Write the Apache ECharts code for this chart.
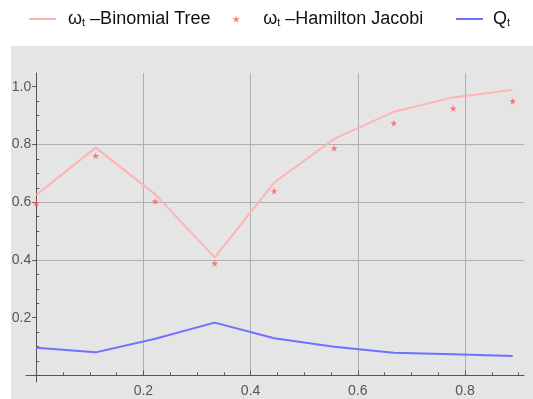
<!DOCTYPE html>
<html><head><meta charset="utf-8">
<script src="https://cdn.jsdelivr.net/npm/echarts@6/dist/echarts.min.js"></script>
<style>
html,body{margin:0;padding:0;background:#fff;width:533px;height:399px;overflow:hidden;}
#bg{position:absolute;left:11px;top:46px;right:0;bottom:0;background:#e5e5e5;}
#main{position:absolute;left:0;top:0;width:533px;height:399px;}
</style></head><body>
<div id="bg"></div><div id="main"></div>
<script>
// ---- data ----
const times = [0, 0.111, 0.222, 0.333, 0.444, 0.556, 0.667, 0.778, 0.889];
const binomialTree = [0.625, 0.789, 0.627, 0.409, 0.668, 0.819, 0.913, 0.963, 0.989];
const hamiltonJacobi = [0.597, 0.761, 0.603, 0.388, 0.639, 0.787, 0.874, 0.925, 0.950];
const qValues = [0.096, 0.080, 0.127, 0.183, 0.129, 0.099, 0.079, 0.073, 0.067];
const xTickLabels = [0.2, 0.4, 0.6, 0.8];
const yTickLabels = [0.2, 0.4, 0.6, 0.8, 1.0];
const xMinorTicks = [0.05, 0.1, 0.15, 0.25, 0.3, 0.35, 0.45, 0.5, 0.55, 0.65, 0.7, 0.75, 0.85, 0.9];
const yMinorTicks = [0.05, 0.1, 0.15, 0.25, 0.3, 0.35, 0.45, 0.5, 0.55, 0.65, 0.7, 0.75, 0.85, 0.9, 0.95];

// ---- layout ----
const W = 533, H = 399;
const X0 = 36.2, XS = 536, Y0 = 375.45, YS = 288.75;
const plotRight = 524, plotTop = 73, stubLeft = 26, stubBottom = 382;
const xMax = (plotRight - X0) / XS;
const yMax = (Y0 - plotTop) / YS;
const xMin = (stubLeft - X0) / XS;
const yMin = (Y0 - stubBottom) / YS;

const AX = '#555555';
const GRIDC = '#b0b0b0';
const FONT = '"Liberation Sans", Arial, Helvetica, sans-serif';
const starPath = 'path://M50,0 L61,35 L98,35 L68,57 L79,91 L50,70 L21,91 L32,57 L2,35 L39,35 Z';

function rich(pad) {
  return {
    w: { fontSize: 18, fontFamily: FONT, color: '#111', padding: [0, 0, 0, pad] },
    s: { fontSize: 11, fontFamily: FONT, color: '#111', verticalAlign: 'bottom' },
    r: { fontSize: 18, fontFamily: FONT, color: '#111' }
  };
}
const legendText = {
  bt: '{w|ω}{s|t}{r| –Binomial Tree}',
  hj: '{w|ω}{s|t}{r| –Hamilton Jacobi}',
  q: '{w|Q}{s|t}'
};
function legendFor(name, left, pad, icon, itemHeight) {
  return {
    data: [{ name: name, icon: icon }], left: left, top: 10, padding: 0, orient: 'horizontal',
    itemWidth: 27, itemHeight: itemHeight, selectedMode: false,
    formatter: n => legendText[n],
    textStyle: { rich: rich(pad), fontSize: 18, fontFamily: FONT }
  };
}

const chart = echarts.init(document.getElementById('main'), null, { renderer: 'canvas', width: W, height: H });
const hiddenAxis = { axisLine: { show: false }, axisTick: { show: false }, axisLabel: { show: false }, splitLine: { show: false } };
chart.setOption({
  animation: false,
  legend: [
    legendFor('bt', 29, 7, 'rect', 2),
    legendFor('hj', 232.5, 8.5, starPath, 7),
    legendFor('q', 456, 5, 'rect', 2)
  ],
  grid: [
    { left: X0, right: W - plotRight, top: plotTop, bottom: H - Y0 },
    { left: stubLeft, right: W - plotRight, top: plotTop, bottom: H - stubBottom },
    { left: X0, right: W - plotRight, top: plotTop, bottom: H - Y0 }
  ],
  xAxis: [
    {
      type: 'value', gridIndex: 0, min: 0, max: xMax, interval: 0.2,
      axisLine: { show: false },
      axisTick: { show: true, inside: true, length: 5, customValues: xTickLabels, lineStyle: { color: AX } },
      minorTick: { show: false },
      axisLabel: { customValues: xTickLabels, formatter: v => v.toFixed(1), margin: 9,
        color: '#555', fontSize: 14, fontFamily: FONT },
      splitLine: { show: true, lineStyle: { color: GRIDC, width: 1 } }
    },
    Object.assign({ type: 'value', gridIndex: 1, min: xMin, max: xMax }, hiddenAxis,
      { axisLine: { show: true, onZero: true, lineStyle: { color: AX, width: 1 } } }),
    Object.assign({ type: 'value', gridIndex: 2, min: 0, max: xMax, interval: 0.2 }, hiddenAxis,
      { axisTick: { show: true, inside: true, length: 3, customValues: xMinorTicks, lineStyle: { color: AX } } })
  ],
  yAxis: [
    {
      type: 'value', gridIndex: 0, min: 0, max: yMax, interval: 0.2,
      axisLine: { show: false },
      axisTick: { show: true, inside: false, length: 4, customValues: yTickLabels, lineStyle: { color: AX } },
      minorTick: { show: false },
      axisLabel: { customValues: yTickLabels, formatter: v => v.toFixed(1), margin: 5,
        color: '#555', fontSize: 14, fontFamily: FONT },
      splitLine: { show: true, showMinLine: false, showMaxLine: false, lineStyle: { color: GRIDC, width: 1 } }
    },
    Object.assign({ type: 'value', gridIndex: 1, min: yMin, max: yMax }, hiddenAxis,
      { axisLine: { show: true, onZero: true, lineStyle: { color: AX, width: 1 } } }),
    Object.assign({ type: 'value', gridIndex: 2, min: 0, max: yMax, interval: 0.2 }, hiddenAxis,
      { axisTick: { show: true, inside: true, length: 3, customValues: yMinorTicks, lineStyle: { color: AX } } })
  ],
  series: [
    {
      name: 'bt', type: 'line', xAxisIndex: 0, yAxisIndex: 0,
      data: times.map((t, i) => [t, binomialTree[i]]),
      symbol: 'none', lineStyle: { color: '#ffb3b3', width: 2 }, itemStyle: { color: '#ffb3b3' }, z: 2
    },
    {
      name: 'hj', type: 'scatter', xAxisIndex: 0, yAxisIndex: 0,
      data: times.map((t, i) => [t, hamiltonJacobi[i]]),
      symbol: starPath, symbolSize: 7, itemStyle: { color: '#ff5a5a' }, z: 3
    },
    {
      name: 'q', type: 'line', xAxisIndex: 0, yAxisIndex: 0,
      data: times.map((t, i) => [t, qValues[i]]),
      symbol: 'none', lineStyle: { color: '#7070ff', width: 2 }, itemStyle: { color: '#7070ff' }, z: 2
    }
  ]
});
</script>
</body></html>
